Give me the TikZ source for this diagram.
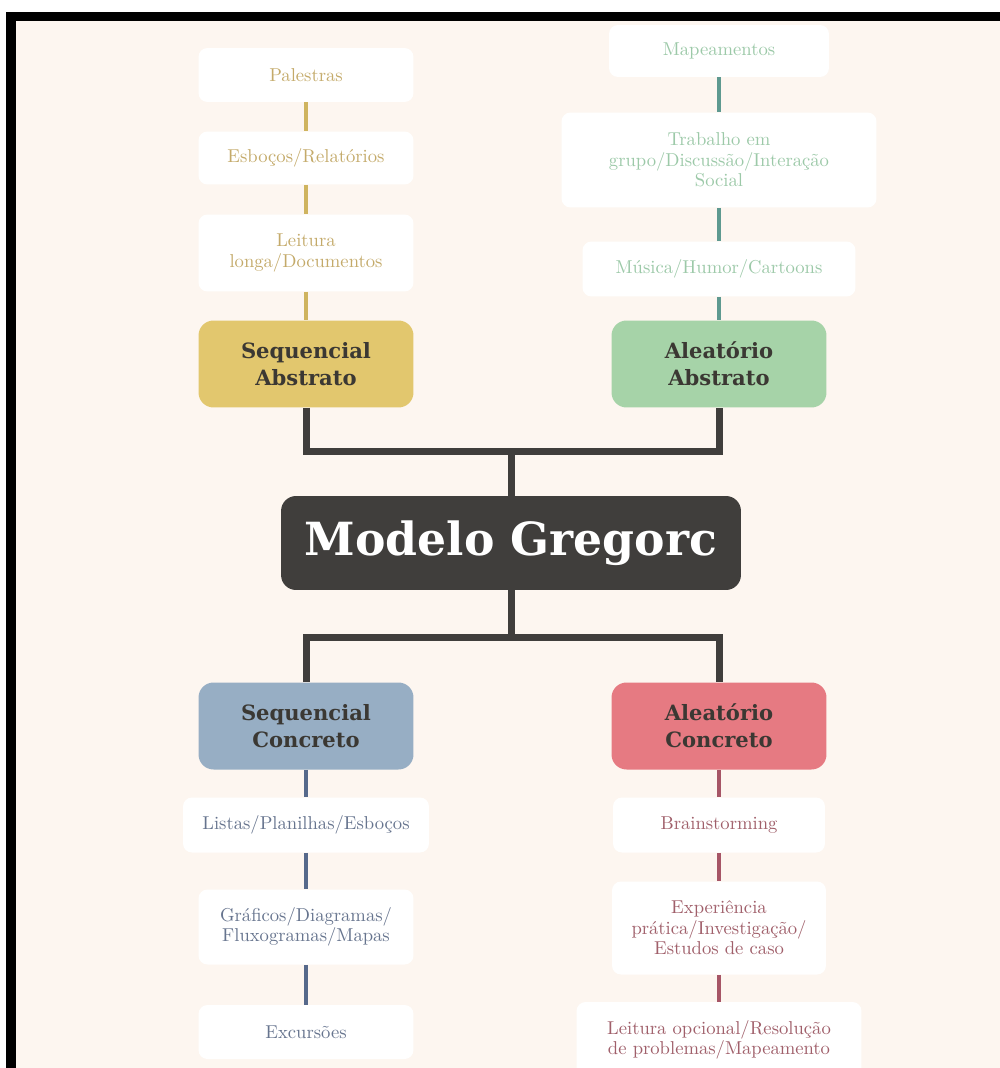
\documentclass[tikz,border=0pt]{standalone}
\usepackage{fontspec}
\usepackage{tikz}
\newfontfamily\slabfont{DejaVu Serif}

\definecolor{paper}{HTML}{FDF6F0}
\definecolor{ink}{HTML}{3B3833}
\definecolor{coal}{HTML}{403E3C}
\definecolor{goldfill}{HTML}{E2C76E}
\definecolor{greenfill}{HTML}{A6D3A8}
\definecolor{bluefill}{HTML}{97AEC4}
\definecolor{redfill}{HTML}{E67A82}
\definecolor{goldtext}{HTML}{C4AA6A}
\definecolor{greentext}{HTML}{9CC9A8}
\definecolor{bluetext}{HTML}{66748E}
\definecolor{redtext}{HTML}{A05F6A}
\definecolor{goldline}{HTML}{CFB45F}
\definecolor{greenline}{HTML}{5E9990}
\definecolor{blueline}{HTML}{56698B}
\definecolor{redline}{HTML}{A65566}

\tikzset{
	item/.style={shape=rectangle,rounded corners=0.18cm,fill=white,align=center,inner sep=0pt,
		font=\fontsize{10.6}{11.6}\selectfont},
	head/.style={shape=rectangle,rounded corners=0.3cm,align=center,inner sep=0pt,text=ink,
		font=\slabfont\bfseries\fontsize{12}{15.5}\selectfont,minimum width=4.3cm,minimum height=1.74cm},
	trunk/.style={draw=coal,line width=0.14cm},
	twig/.style={line width=0.065cm}
}

\begin{document}
\begin{tikzpicture}[x=0.02cm,y=-0.02cm]
	\useasboundingbox (0,0) rectangle (1000,1068);
	\fill[white] (0,0) rectangle (1000,1068);
	\fill[paper] (16,21) rectangle (1000,1068);
	\fill[black] (6,12) rectangle (1000,21);
	\fill[black] (6,12) rectangle (16,1068);

	% Sequencial Abstrato
	\node[item,text=goldtext,minimum width=4.3cm,minimum height=1.08cm] (pal) at (306,75)  {Palestras};
	\node[item,text=goldtext,minimum width=4.3cm,minimum height=1.06cm] (esb) at (306,158) {Esboços/Relatórios};
	\node[item,text=goldtext,minimum width=4.3cm,minimum height=1.54cm] (lei) at (306,253) {Leitura\\longa/Documentos};
	\node[head,fill=goldfill] (sa) at (306,364) {Sequencial\\Abstrato};

	% Aleatorio Abstrato
	\node[item,text=greentext,minimum width=4.4cm,minimum height=1.04cm] (map) at (719,51)  {Mapeamentos};
	\node[item,text=greentext,minimum width=6.3cm,minimum height=1.9cm]  (tra) at (719,160) {Trabalho em\\grupo/Discussão/Interação\\Social};
	\node[item,text=greentext,minimum width=5.46cm,minimum height=1.1cm] (mus) at (719,269) {Música/Humor/Cartoons};
	\node[head,fill=greenfill] (aa) at (719,364) {Aleatório\\Abstrato};

	% centre
	\node[shape=rectangle,rounded corners=0.3cm,fill=coal,text=white,inner sep=0pt,
		minimum width=9.2cm,minimum height=1.88cm,font=\slabfont\bfseries\fontsize{26}{30}\selectfont] (mg) at (511,543) {Modelo Gregorc};

	% Sequencial Concreto
	\node[head,fill=bluefill] (sc) at (306,726) {Sequencial\\Concreto};
	\node[item,text=bluetext,minimum width=4.92cm,minimum height=1.1cm] (lis) at (306,825)  {Listas/Planilhas/Esboços};
	\node[item,text=bluetext,minimum width=4.3cm,minimum height=1.5cm]  (gra) at (306,927)  {Gráficos/Diagramas/\\Fluxogramas/Mapas};
	\node[item,text=bluetext,minimum width=4.3cm,minimum height=1.08cm] (exc) at (306,1032) {Excursões};

	% Aleatorio Concreto
	\node[head,fill=redfill] (ac) at (719,726) {Aleatório\\Concreto};
	\node[item,text=redtext,minimum width=4.24cm,minimum height=1.1cm]  (bra) at (719,825)  {Brainstorming};
	\node[item,text=redtext,minimum width=4.28cm,minimum height=1.86cm] (exp) at (719,928)  {Experiência\\prática/Investigação/\\Estudos de caso};
	\node[item,text=redtext,minimum width=5.7cm,minimum height=1.52cm]  (lop) at (719,1040) {Leitura opcional/Resolução\\de problemas/Mapeamento};

	\coordinate (top) at (511,451);
	\coordinate (bot) at (511,637);

	\draw[trunk] (sa.south) |- (top) -| (aa.south);
	\draw[trunk] (top) -- (mg.north);
	\draw[trunk] (mg.south) -- (bot);
	\draw[trunk] (sc.north) |- (bot) -| (ac.north);

	\path[twig,draw=goldline] (pal) edge (esb) (esb) edge (lei) (lei) edge (sa);
	\path[twig,draw=greenline] (map) edge (tra) (tra) edge (mus) (mus) edge (aa);
	\path[twig,draw=blueline] (sc) edge (lis) (lis) edge (gra) (gra) edge (exc);
	\path[twig,draw=redline] (ac) edge (bra) (bra) edge (exp) (exp) edge (lop);

\end{tikzpicture}
\end{document}
